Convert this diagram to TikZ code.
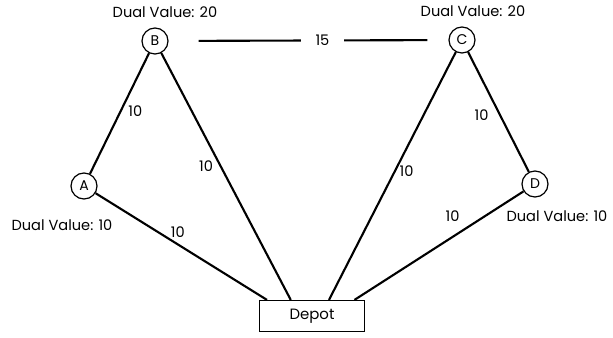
\documentclass[tikz,border=0pt]{standalone}
\usepackage{fontspec}
\setmainfont{Poppins}
\usepackage{tikz}
\usetikzlibrary{positioning, calc}

\begin{document}
\begin{tikzpicture}[
    city/.style={circle, draw, line width=0.7pt, minimum size=0.52cm, inner sep=0pt, font=\fontsize{8}{9}\selectfont},
    depotbox/.style={rectangle, draw, line width=0.7pt, minimum width=2.1cm, minimum height=0.62cm, font=\fontsize{8.5}{10}\selectfont},
    dual/.style={inner sep=0pt, font=\fontsize{8.3}{10}\selectfont},
    cost/.style={inner sep=1pt, font=\fontsize{8.3}{10}\selectfont},
    road/.style={line width=1.2pt}]

\useasboundingbox (0,0) rectangle (12.26,6.74);

% Customers and depot
\node[city] (B) at (3.10,5.92) {B};
\node[city] (C) at (9.24,5.94) {C};
\node[city] (A) at (1.68,3.02) {A};
\node[city] (D) at (10.70,3.06) {D};
\node[depotbox] (depot) at (6.24,0.42) {Depot};

% Where the roads meet the depot
\coordinate (inA) at ($(depot.north west)!0.076!(depot.north east)$);
\coordinate (inB) at ($(depot.north west)!0.30!(depot.north east)$);
\coordinate (inC) at ($(depot.north west)!0.66!(depot.north east)$);
\coordinate (inD) at ($(depot.north west)!0.90!(depot.north east)$);

% Dual values
\node[dual, above=0.18cm of B, xshift=0.2cm] (dB) {Dual Value: 20};
\node[dual, above=0.18cm of C, xshift=0.22cm] (dC) {Dual Value: 20};
\node[dual, below=0.4cm of A, xshift=-0.44cm] (dA) {Dual Value: 10};
\node[dual, below=0.26cm of D, xshift=0.44cm] (dD) {Dual Value: 10};

% Roads with costs
\draw[road] (A) -- node[cost, pos=0.52, right=0.1cm] {10} (B);
\draw[road] (B) -- node[cost, pos=0.46, left=0.1cm] {10} (inB);
\draw[road] (A) -- node[cost, pos=0.48, above=0.08cm] {10} (inA);
\draw[road] (C) -- node[cost, pos=0.48, right=0.04cm] {10} (inC);
\draw[road] (C) -- node[cost, pos=0.53, left=0.18cm] {10} (D);
\draw[road] (D) -- node[cost, pos=0.42, above=0.26cm] {10} (inD);

% B to C link
\draw[road, shorten <=0.6cm, shorten >=0.42cm] (B) --
    node[cost, pos=0.55, fill=white, inner xsep=0.3cm] {15} (C);

\end{tikzpicture}
\end{document}
